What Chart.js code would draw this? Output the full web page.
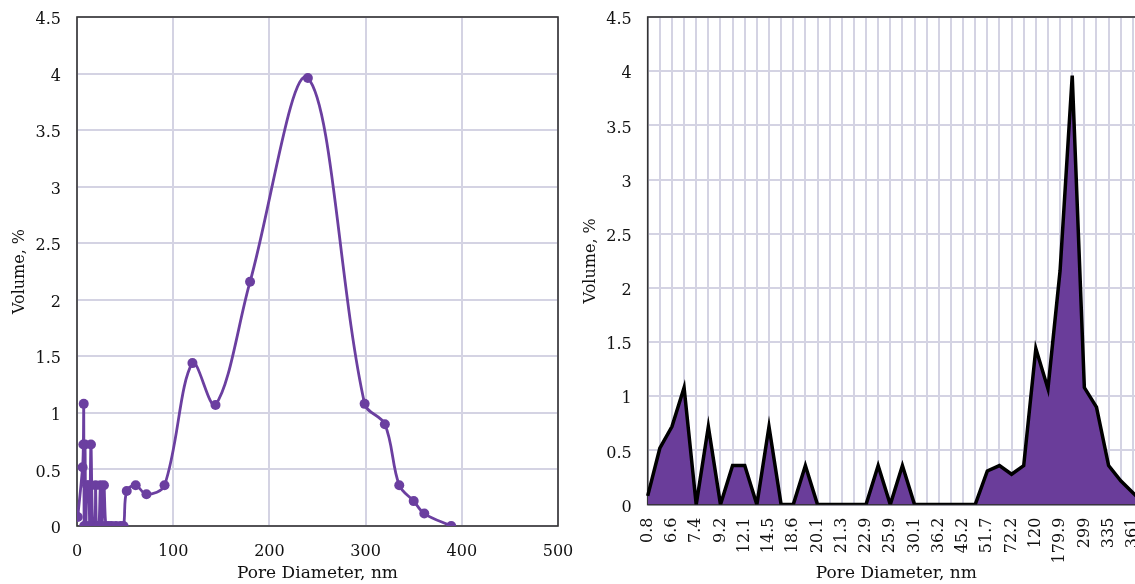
<!DOCTYPE html>
<html>
<head>
<meta charset="utf-8">
<script src="https://cdn.jsdelivr.net/npm/chart.js@4"></script>
<style>
  html, body { margin: 0; padding: 0; background: #fff; overflow: hidden; }
  #wrap { position: relative; width: 1135px; height: 584px; overflow: hidden; }
  #stage1 { position: absolute; left: 0; top: 0; }
  #stage2 { position: absolute; left: 580px; top: 0; }
</style>
</head>
<body>
<div id="wrap">
  <canvas id="stage1" width="580" height="584"></canvas>
  <canvas id="stage2" width="600" height="584"></canvas>
</div>
<script>
// 細孔径 [nm] と体積 [%]
var poreDiameter = [0.8, 5.8, 6.6, 7.0, 7.4, 8.3, 9.2, 10.5, 12.1, 13.2, 14.5, 16.4, 18.6, 19.3,
  20.1, 20.7, 21.3, 22.1, 22.9, 24.4, 25.9, 28.0, 30.1, 33.1, 36.2, 40.5, 45.2, 48.4,
  51.7, 61.0, 72.2, 91.0, 120, 144, 179.9, 240, 299, 320, 335, 350, 361, 389];
var volume = [0.08, 0.52, 0.72, 1.08, 0, 0.72, 0, 0.36, 0.36, 0, 0.72, 0, 0, 0.36,
  0, 0, 0, 0, 0, 0.36, 0, 0.36, 0, 0, 0, 0, 0, 0,
  0.31, 0.36, 0.28, 0.36, 1.44, 1.07, 2.16, 3.96, 1.08, 0.90, 0.36, 0.22, 0.11, 0];

var purple = '#6b3fa0';
var gridColor = '#d4d3e3';
var textColor = '#111111';
var fontFamily = '"DejaVu Serif", "Liberation Serif", serif';

// プロット領域の枠線を描くプラグイン
var framePlugin = {
  id: 'frame',
  beforeDatasetsDraw(chart) {
    var a = chart.chartArea;
    var ctx = chart.ctx;
    ctx.save();
    ctx.strokeStyle = '#333333';
    ctx.lineWidth = 1.6;
    ctx.strokeRect(a.left, a.top, a.right - a.left, a.bottom - a.top);
    ctx.restore();
  }
};

// 目盛り線は見せずに、ラベルと軸の間隔だけ確保する
function gridOpts(gap) {
  return { color: gridColor, lineWidth: 2, drawTicks: true, tickLength: gap, tickColor: 'rgba(0,0,0,0)' };
}

function yScale(width, titlePad) {
  return {
    min: 0,
    max: 4.5,
    afterFit: function(scale) { scale.width = width; },
    ticks: {
      stepSize: 0.5,
      padding: 2,
      labelOffset: 3,
      color: textColor,
      font: { family: fontFamily, size: 16 },
      callback: function(v) { return String(v); }
    },
    grid: gridOpts(14),
    border: { display: false },
    title: {
      display: true,
      text: 'Volume, %',
      color: textColor,
      padding: { top: titlePad, bottom: 0 },
      font: { family: fontFamily, size: 16 }
    }
  };
}

function xTitle() {
  return {
    display: true,
    text: 'Pore Diameter, nm',
    color: textColor,
    padding: { top: 0, bottom: 0 },
    font: { family: fontFamily, size: 17 }
  };
}

// 左: 散布図 (平滑線)
var chart1 = new Chart(document.getElementById('stage1'), {
  type: 'scatter',
  data: {
    datasets: [{
      data: poreDiameter.map((d, i) => ({ x: d, y: volume[i] })),
      showLine: true,
      borderColor: purple,
      backgroundColor: purple,
      borderWidth: 2.8,
      pointRadius: 5,
      pointBorderWidth: 0,
      tension: 0.35
    }]
  },
  options: {
    responsive: false,
    animation: false,
    layout: { padding: { top: 17, right: 22, bottom: 0, left: 0 } },
    plugins: { legend: { display: false }, tooltip: { enabled: false } },
    scales: {
      x: {
        type: 'linear',
        min: 0,
        max: 500,
        afterFit: function(scale) { scale.height = 58; },
        ticks: { stepSize: 100, padding: 1, color: textColor, font: { family: fontFamily, size: 16 } },
        grid: gridOpts(15),
        border: { display: false },
        title: xTitle()
      },
      y: yScale(77, 10)
    }
  },
  plugins: [framePlugin]
});

// 右: カテゴリ軸の面グラフ
var labels = poreDiameter.map(d => String(d));
var chart2 = new Chart(document.getElementById('stage2'), {
  type: 'line',
  data: {
    labels: labels,
    datasets: [{
      data: volume,
      fill: 'origin',
      backgroundColor: '#6a3d9a',
      borderColor: '#000000',
      borderWidth: 3.5,
      borderJoinStyle: 'miter',
      pointRadius: 0,
      tension: 0
    }]
  },
  options: {
    responsive: false,
    animation: false,
    layout: { padding: { top: 17, right: 35, bottom: 0, left: 0 } },
    plugins: { legend: { display: false }, tooltip: { enabled: false } },
    scales: {
      x: {
        type: 'category',
        offset: false,
        afterFit: function(scale) { scale.height = 79.4; },
        ticks: {
          autoSkip: false,
          maxRotation: 90,
          minRotation: 90,
          padding: 1,
          color: textColor,
          font: { family: fontFamily, size: 16 },
          callback: function(val, i) { return i % 2 === 0 ? labels[i] : ''; }
        },
        grid: gridOpts(12),
        border: { display: false },
        title: xTitle()
      },
      y: yScale(67.7, 1)
    }
  },
  plugins: [framePlugin]
});
</script>
</body>
</html>
